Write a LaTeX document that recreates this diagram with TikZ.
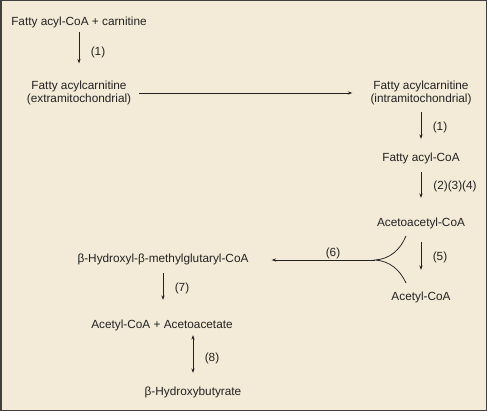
\documentclass[tikz,border=0pt]{standalone}
\usepackage{fontspec}
\setmainfont{Liberation Sans}
\usetikzlibrary{arrows.meta}
\definecolor{paper}{HTML}{F3EAD7}
\definecolor{frame}{HTML}{404040}
\definecolor{ink}{HTML}{222222}
\begin{document}
\begin{tikzpicture}[x=1pt,y=-1pt,
    every node/.style={inner sep=0pt,text=ink,font=\fontsize{11.8}{13}\selectfont},
    >={Stealth[length=4.5pt,width=3.2pt]},
    rxn/.style={->,ink,line width=0.75pt}]
    \fill[paper] (0,0) rectangle (487,411);
    \draw[frame,line width=1.5pt] (0.75,0.75) rectangle (486.25,410.25);
    % outside the mitochondrion
    \node (fa) at (79,22) {Fatty acyl-CoA + carnitine};
    \node[align=center] (fcx) at (79,93) {Fatty acylcarnitine\\(extramitochondrial)};
    % inside
    \node[align=center] (fci) at (421,93) {Fatty acylcarnitine\\(intramitochondrial)};
    \node (fa2) at (421,158) {Fatty acyl-CoA};
    \node (aca) at (421,223) {Acetoacetyl-CoA};
    \node (ac) at (421,297) {Acetyl-CoA};
    \node (hmg) at (163,259) {β-Hydroxyl-β-methylglutaryl-CoA};
    \node (aa) at (162,325) {Acetyl-CoA + Acetoacetate};
    \node (hb) at (193,392) {β-Hydroxybutyrate};
    \coordinate (j) at (375,260);
    \coordinate (up) at (406,236);
    \coordinate (dn) at (406,283);
    \draw[rxn,shorten <=4.4pt,shorten >=17.4pt] (fa) -- (fcx);
    \draw[rxn,shorten <=8pt,shorten >=18pt] (fcx.east) -- (fci.west);
    \draw[rxn,shorten <=7pt,shorten >=13.4pt] (fci) -- (fa2);
    \draw[rxn,shorten <=8.4pt,shorten >=19.4pt] (fa2) -- (aca);
    \draw[rxn,shorten <=13.4pt,shorten >=21.4pt] (aca) -- (ac);
    \draw[ink,line width=0.75pt] (up) .. controls (400,250) and (390,259) .. (j)
      .. controls (390,261) and (400,270) .. (dn);
    \draw[rxn,shorten >=23pt] (j) -- (j -| hmg.east);
    \draw[rxn,shorten <=8.4pt,shorten >=19.4pt] (hmg.south) -- (hmg.south |- aa.north);
    \draw[rxn,<->,shorten <=4.4pt,shorten >=13.4pt] (aa.south -| hb) -- (hb.north);
    \foreach \n/\x/\y/\t in {l1/98/52/(1),l2/440/127/(1),l3/455/186/(2)(3)(4),
      l4/440/257/(5),l5/333/253/(6),l6/182/288/(7),l7/212/358/(8)}
      \node (\n) at (\x,\y) {\t};
\end{tikzpicture}
\end{document}
